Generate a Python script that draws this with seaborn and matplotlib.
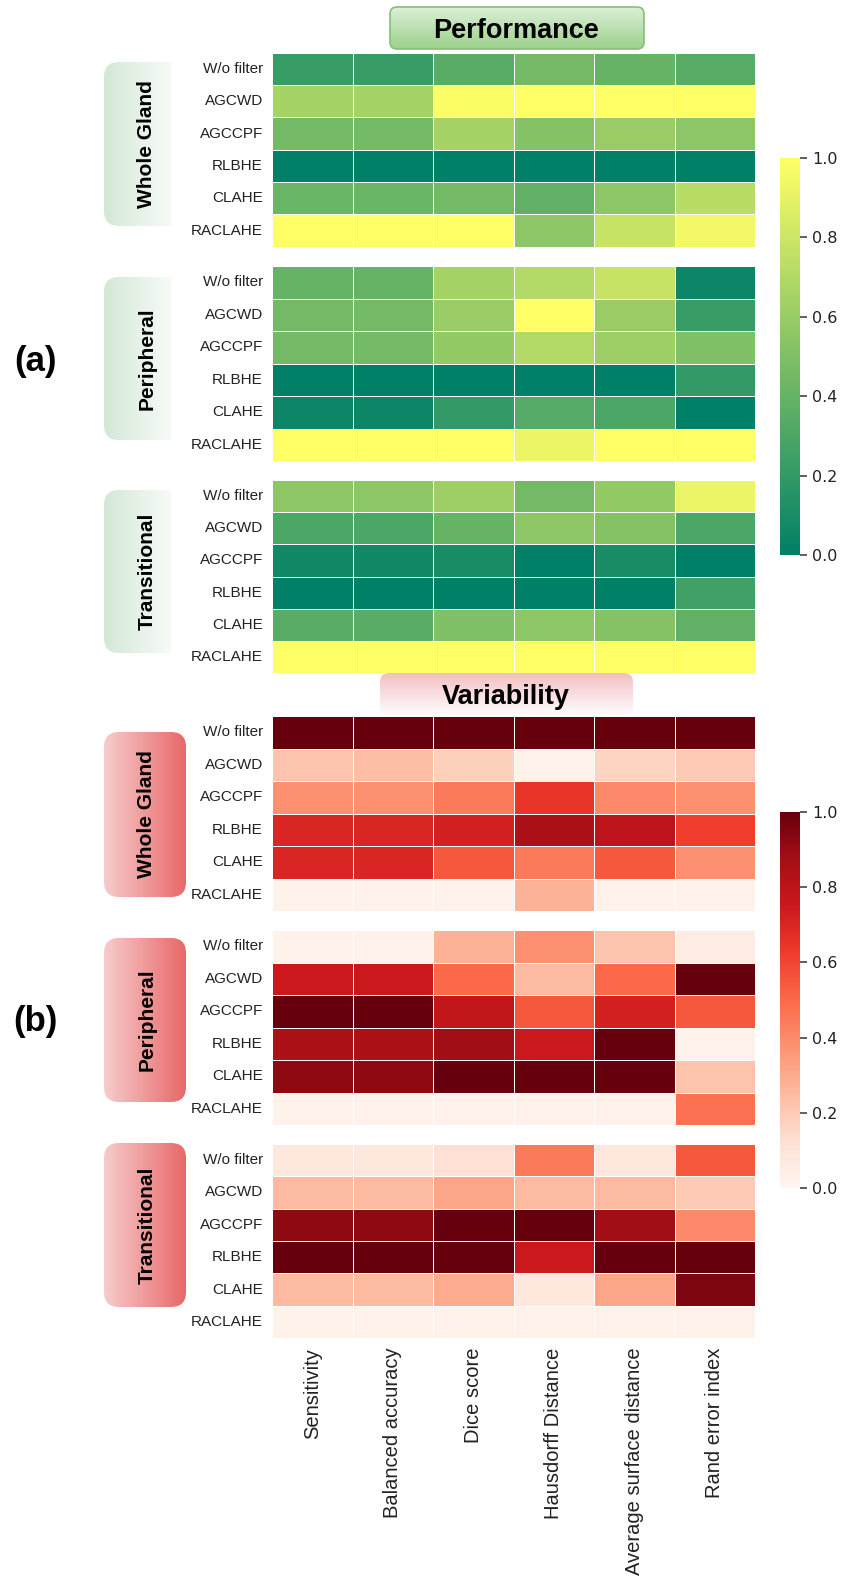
import numpy as np
import pandas as pd
import seaborn as sns
import matplotlib
matplotlib.use("Agg")
import matplotlib.pyplot as plt
from matplotlib.patches import FancyBboxPatch
from matplotlib.colors import LinearSegmentedColormap

metrics = ["Sensitivity", "Balanced accuracy", "Dice score", "Hausdorff Distance",
           "Average surface distance", "Rand error index"]
methods = ["W/o filter", "AGCWD", "AGCCPF", "RLBHE", "CLAHE", "RACLAHE"]
regions = ["Whole Gland", "Peripheral", "Transitional"]

perf_whole = [[0.22, 0.22, 0.35, 0.45, 0.40, 0.35],
              [0.65, 0.65, 0.98, 1.00, 1.00, 1.00],
              [0.45, 0.45, 0.65, 0.52, 0.60, 0.55],
              [0.00, 0.00, 0.00, 0.00, 0.00, 0.00],
              [0.42, 0.42, 0.45, 0.38, 0.55, 0.72],
              [1.00, 1.00, 1.00, 0.55, 0.78, 0.95]]
perf_peri = [[0.40, 0.40, 0.65, 0.70, 0.78, 0.05],
             [0.45, 0.45, 0.60, 1.00, 0.60, 0.22],
             [0.45, 0.45, 0.58, 0.70, 0.62, 0.50],
             [0.00, 0.00, 0.00, 0.00, 0.00, 0.20],
             [0.05, 0.05, 0.20, 0.33, 0.30, 0.00],
             [1.00, 1.00, 1.00, 0.92, 1.00, 1.00]]
perf_trans = [[0.55, 0.55, 0.62, 0.45, 0.58, 0.92],
              [0.30, 0.30, 0.40, 0.55, 0.52, 0.30],
              [0.07, 0.07, 0.10, 0.00, 0.10, 0.00],
              [0.00, 0.00, 0.00, 0.00, 0.00, 0.25],
              [0.35, 0.35, 0.50, 0.55, 0.52, 0.38],
              [1.00, 1.00, 1.00, 1.00, 1.00, 1.00]]

var_whole = [[1.00, 1.00, 1.00, 1.00, 1.00, 1.00],
             [0.22, 0.24, 0.18, 0.02, 0.17, 0.20],
             [0.38, 0.38, 0.45, 0.65, 0.40, 0.38],
             [0.70, 0.70, 0.72, 0.85, 0.80, 0.62],
             [0.70, 0.70, 0.55, 0.45, 0.55, 0.38],
             [0.02, 0.02, 0.02, 0.28, 0.02, 0.02]]
var_peri = [[0.02, 0.02, 0.28, 0.38, 0.22, 0.05],
            [0.75, 0.75, 0.50, 0.25, 0.50, 1.00],
            [1.00, 1.00, 0.78, 0.55, 0.72, 0.55],
            [0.85, 0.85, 0.88, 0.75, 1.00, 0.02],
            [0.92, 0.92, 1.00, 1.00, 1.00, 0.22],
            [0.02, 0.02, 0.02, 0.02, 0.02, 0.48]]
var_trans = [[0.08, 0.08, 0.12, 0.45, 0.08, 0.55],
             [0.25, 0.25, 0.32, 0.25, 0.25, 0.20],
             [0.92, 0.92, 1.00, 1.00, 0.88, 0.40],
             [1.00, 1.00, 1.00, 0.75, 1.00, 1.00],
             [0.25, 0.25, 0.30, 0.08, 0.32, 0.95],
             [0.02, 0.02, 0.02, 0.02, 0.02, 0.02]]

SANS = ["Liberation Sans", "DejaVu Sans"]
W, H = 847, 1583
fig = plt.figure(figsize=(W / 100, H / 100), dpi=100)
bg = fig.add_axes([0, 0, 1, 1])
bg.set_xlim(0, W)
bg.set_ylim(H, 0)
bg.set_autoscale_on(False)
bg.axis("off")


def px_axes(x0, y0, x1, y1):
    return fig.add_axes([x0 / W, 1 - y1 / H, (x1 - x0) / W, (y1 - y0) / H])


def grad_box(x0, y0, x1, y1, c1, c2, horizontal, r, ec="none", lw=0, clip_right=None):
    g = np.linspace(0, 1, 256)
    arr = g[None, :] if horizontal else g[:, None]
    cm = LinearSegmentedColormap.from_list("g", [c1, c2])
    xr = x1 if clip_right is None else clip_right
    im = bg.imshow(arr, extent=[x0, xr, y1, y0], cmap=cm, aspect="auto",
                   origin="upper", interpolation="bilinear", zorder=1)
    patch = FancyBboxPatch((x0, y0), x1 - x0, y1 - y0,
                           boxstyle=f"round,pad=0,rounding_size={r}",
                           fc="none", ec=ec, lw=lw, zorder=2)
    bg.add_patch(patch)
    im.set_clip_path(patch)


# title boxes
grad_box(390, 7, 644, 49, "#dcefd8", "#9cd18a", False, 7, ec="#86c076", lw=1.2)
bg.text(516, 38, "Performance", ha="center", va="baseline", fontsize=19.5,
        fontweight="bold", family=SANS, zorder=3)
grad_box(380, 673, 633, 716, "#f3bfc2", "#ffffff", False, 9)
bg.text(506, 704, "Variability", ha="center", va="baseline", fontsize=19.5,
        fontweight="bold", family=SANS, zorder=3)

# panel letters
bg.text(35, 361, "(a)", ha="center", va="center", fontsize=25, fontweight="bold", family=SANS)
bg.text(35, 1022, "(b)", ha="center", va="center", fontsize=25, fontweight="bold", family=SANS)

perf_blocks = [(perf_whole, 52.7, 246.7), (perf_peri, 266, 461), (perf_trans, 480, 673)]
var_blocks = [(var_whole, 716, 911), (var_peri, 930, 1125), (var_trans, 1144, 1338)]
perf_boxes = [(62, 226), (277, 440), (490, 653)]
var_boxes = [(732, 897), (938, 1102), (1143, 1307)]

for (y0, y1), name in zip(perf_boxes, regions):
    grad_box(104, y0, 200, y1, "#d3e8d6", "#f7fbf7", True, 15, clip_right=171)
    bg.text(147, (y0 + y1) / 2, name, rotation=90, ha="center", va="center",
            fontsize=15, fontweight="bold", family=SANS, zorder=3)
for (y0, y1), name in zip(var_boxes, regions):
    grad_box(104, y0, 186, y1, "#f7cccc", "#e86868", True, 15)
    bg.text(147, (y0 + y1) / 2, name, rotation=90, ha="center", va="center",
            fontsize=15, fontweight="bold", family=SANS, zorder=3)

cax_p = px_axes(780, 158, 800, 555)
cax_v = px_axes(780, 812, 800, 1188)


def draw(block, y0, y1, cmap, cax=None, xlabels=False):
    ax = px_axes(272, y0, 755, y1)
    df = pd.DataFrame(block, index=methods, columns=metrics)
    sns.heatmap(df, ax=ax, cmap=cmap, vmin=0, vmax=1, linewidths=0.7,
                linecolor="white", cbar=cax is not None, cbar_ax=cax,
                xticklabels=metrics if xlabels else False, yticklabels=methods)
    ax.tick_params(axis="y", length=0, pad=6.5)
    ax.tick_params(axis="x", length=0, pad=7)
    for t in ax.get_yticklabels():
        t.set_rotation(0)
        t.set_fontsize(11)
        t.set_family(SANS)
        t.set_color("#222222")
    if xlabels:
        for t in ax.get_xticklabels():
            t.set_rotation(90)
            t.set_fontsize(14.5)
            t.set_family(SANS)
            t.set_color("#222222")
    if cax is not None:
        cax.tick_params(labelsize=11.5, length=5, width=1.2, color="#444444", pad=3.5)
        for t in cax.get_yticklabels():
            t.set_family("DejaVu Sans")
            t.set_color("#222222")
    return ax


for i, (blk, y0, y1) in enumerate(perf_blocks):
    draw(blk, y0, y1, "summer", cax_p if i == 0 else None)
for i, (blk, y0, y1) in enumerate(var_blocks):
    draw(blk, y0, y1, "Reds", cax_v if i == 0 else None, xlabels=(i == 2))

fig.savefig("out.png", dpi=100)
